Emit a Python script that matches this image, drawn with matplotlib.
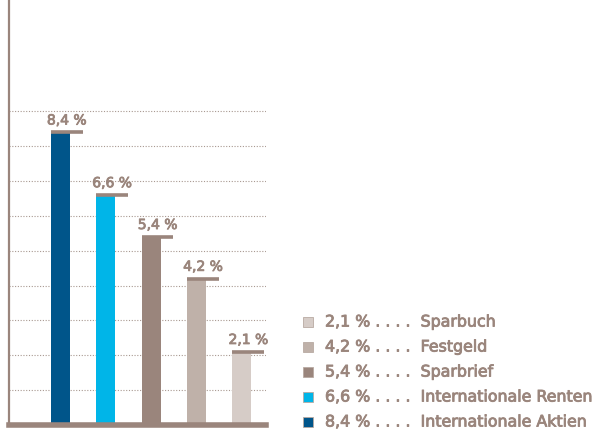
import matplotlib.pyplot as plt
import matplotlib.patheffects as pe

# Renditen (bars from left to right)
labels = ['Internationale Aktien', 'Internationale Renten', 'Sparbrief', 'Festgeld', 'Sparbuch']
values = [8.4, 6.6, 5.4, 4.2, 2.1]
value_text = ['8,4 %', '6,6 %', '5,4 %', '4,2 %', '2,1 %']
colors = ['#00558a', '#00b5e8', '#9a857c', '#bfb1a9', '#d6ccc7']

taupe = '#9a857c'
plt.rcParams['font.family'] = ['DejaVu Sans']
heavy = [pe.withStroke(linewidth=0.6, foreground=taupe)]

fig = plt.figure(figsize=(6, 4.3), dpi=100)
ax = fig.add_axes([9 / 600, 5 / 430, 257 / 600, 425 / 430])

x = list(range(len(values)))
bw = 0.42
ax.bar(x, values, width=bw, color=colors, zorder=3)

# cap on top of each bar
for xi, v, t in zip(x, values, value_text):
    left = xi - bw / 2
    ax.plot([left, left + 0.7], [v, v], color=taupe, lw=2.6, solid_capstyle='butt', zorder=4)
    ax.text(left + 0.35, v + 0.14, t, ha='center', va='bottom', fontsize=10,
            color=taupe, path_effects=heavy)

# dotted grid
for g in range(1, 10):
    ax.axhline(g, color='#a89890', lw=0.8, ls=(0, (1, 1.5)), zorder=1)

ax.set_xlim(-1.13, 4.53)
ax.set_ylim(0, 12.2)
for s in ['top', 'right', 'bottom']:
    ax.spines[s].set_visible(False)
ax.spines['left'].set_color(taupe)
ax.spines['left'].set_linewidth(1.6)
ax.axhline(0, color=taupe, lw=4, zorder=5, clip_on=False)
ax.set_xticks([])
ax.set_yticks([])

# legend (top row = smallest value)
for i, k in enumerate(reversed(range(len(values)))):
    yc = 1 - (322 + 25 * i) / 430
    fig.patches.append(plt.Rectangle((303 / 600, yc - 5 / 430), 10 / 600, 10 / 430,
                                     transform=fig.transFigure, facecolor=colors[k],
                                     edgecolor='#b8aaa2', lw=0.6))
    fig.text(325 / 600, yc, value_text[k] + ' . . . .  ' + labels[k], va='center',
             ha='left', fontsize=11.4, color=taupe, path_effects=heavy)

fig.savefig('out.png', dpi=100)
